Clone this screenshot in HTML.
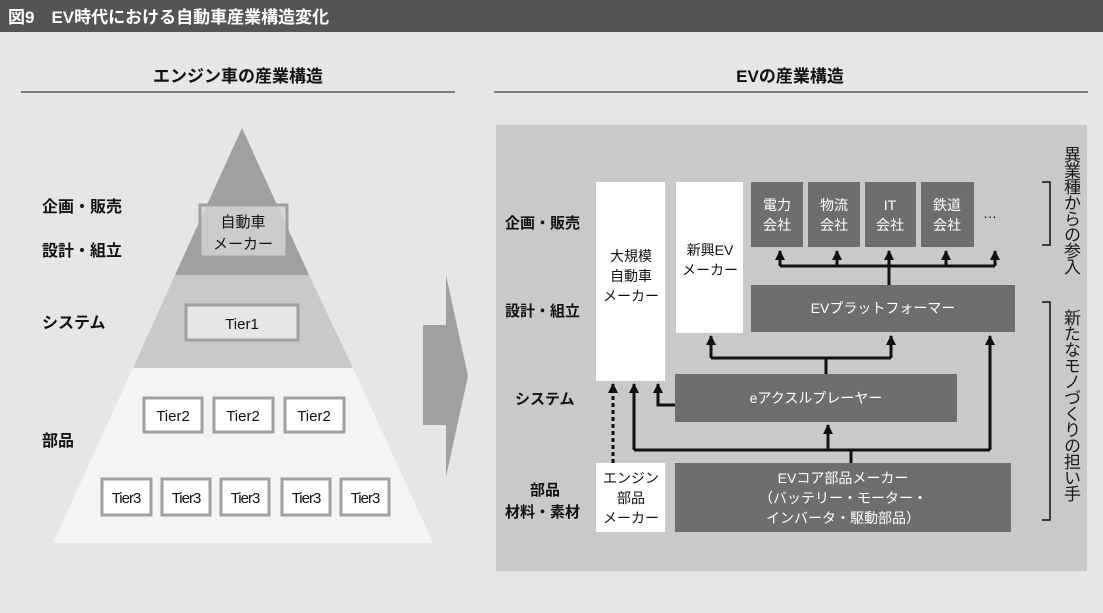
<!DOCTYPE html>
<html><head><meta charset="utf-8"><style>
html,body{margin:0;padding:0;background:#e6e6e6;}
body{width:1103px;height:613px;position:relative;overflow:hidden;font-family:"Liberation Sans","Noto Sans CJK JP",sans-serif;}
svg{position:absolute;left:0;top:0;}
svg text{font-family:"Liberation Sans","Noto Sans CJK JP",sans-serif;}
.v{position:absolute;writing-mode:vertical-rl;font-size:17px;line-height:20px;color:#1a1a1a;letter-spacing:-1px;}
</style></head><body>
<svg width="1103" height="613" viewBox="0 0 1103 613">
<defs>
<marker id="ah" viewBox="0 0 10 10" refX="9" refY="5" markerWidth="10" markerHeight="10" markerUnits="userSpaceOnUse" orient="auto">
<path d="M0,0 L10,5 L0,10 Z" fill="#111"/></marker>
</defs>
<rect x="0" y="0" width="1103" height="32" fill="#555354"/>
<text x="8" y="23" font-size="17" font-weight="bold" fill="#fff">図9　EV時代における自動車産業構造変化</text>

<text x="238" y="82" font-size="17" font-weight="bold" text-anchor="middle" fill="#111">エンジン車の産業構造</text>
<line x1="21" y1="92" x2="455" y2="92" stroke="#111" stroke-width="1"/>
<text x="790" y="82" font-size="17" font-weight="bold" text-anchor="middle" fill="#111">EVの産業構造</text>
<line x1="494" y1="92" x2="1088" y2="92" stroke="#111" stroke-width="1"/>

<polygon points="242,128 309,275 175,275" fill="#a0a0a0"/>
<polygon points="175,275 309,275 353,368 133,368" fill="#c8c9c9"/>
<polygon points="133,368 353,368 433,543 53,543" fill="#f3f4f4"/>
<g font-size="16" font-weight="bold" fill="#111">
<text x="42" y="212">企画・販売</text>
<text x="42" y="256">設計・組立</text>
<text x="42" y="328">システム</text>
<text x="42" y="446">部品</text>
</g>
<g stroke="#a0a0a0" stroke-width="3">
<rect x="200" y="205" width="87" height="52" fill="#d2d2d2" fill-opacity="0.85"/>
<rect x="186" y="305" width="112" height="35" fill="#e6e6e6"/>
<rect x="144" y="398" width="58" height="34" fill="#fff"/>
<rect x="214" y="398" width="59" height="34" fill="#fff"/>
<rect x="285" y="398" width="59" height="34" fill="#fff"/>
<rect x="102" y="479" width="49" height="36" fill="#fff"/>
<rect x="162" y="479" width="48" height="36" fill="#fff"/>
<rect x="221" y="479" width="48" height="36" fill="#fff"/>
<rect x="282" y="479" width="48" height="36" fill="#fff"/>
<rect x="341" y="479" width="48" height="36" fill="#fff"/>
</g>
<g font-size="15" fill="#111" text-anchor="middle">
<text x="243" y="227">自動車</text>
<text x="243" y="249">メーカー</text>
<text x="242" y="329">Tier1</text>
<text x="173" y="421">Tier2</text>
<text x="243" y="421">Tier2</text>
<text x="314" y="421">Tier2</text>
<text x="126" y="503" letter-spacing="-1">Tier3</text>
<text x="186" y="503" letter-spacing="-1">Tier3</text>
<text x="245" y="503" letter-spacing="-1">Tier3</text>
<text x="306" y="503" letter-spacing="-1">Tier3</text>
<text x="365" y="503" letter-spacing="-1">Tier3</text>
</g>
<polygon points="423,325 446,325 446,275 468,376 446,477 446,425 423,425" fill="#a0a0a0"/>

<rect x="496" y="125" width="591" height="446" fill="#c8c9c9"/>
<g font-size="15" font-weight="bold" fill="#111">
<text x="505" y="228">企画・販売</text>
<text x="505" y="316">設計・組立</text>
<text x="515" y="404">システム</text>
<text x="530" y="495">部品</text>
<text x="505" y="517">材料・素材</text>
</g>
<rect x="596" y="182" width="69" height="199" fill="#fff"/>
<rect x="676" y="182" width="67" height="151" fill="#fff"/>
<rect x="596" y="463" width="69" height="69" fill="#fff"/>
<g fill="#6e6e6e">
<rect x="751" y="182" width="52" height="65"/>
<rect x="808" y="182" width="52" height="65"/>
<rect x="865" y="182" width="51" height="65"/>
<rect x="921" y="182" width="53" height="65"/>
<rect x="751" y="285" width="264" height="47"/>
<rect x="675" y="374" width="282" height="48"/>
<rect x="675" y="463" width="336" height="69"/>
</g>
<g font-size="14" fill="#111" text-anchor="middle">
<text x="631" y="261">大規模</text>
<text x="631" y="281">自動車</text>
<text x="631" y="301">メーカー</text>
<text x="710" y="255">新興EV</text>
<text x="710" y="275">メーカー</text>
<text x="631" y="483">エンジン</text>
<text x="631" y="503">部品</text>
<text x="631" y="523">メーカー</text>
</g>
<g font-size="14" fill="#fff" text-anchor="middle">
<text x="777" y="210">電力</text><text x="777" y="230">会社</text>
<text x="834" y="210">物流</text><text x="834" y="230">会社</text>
<text x="890" y="210">IT</text><text x="890" y="230">会社</text>
<text x="947" y="210">鉄道</text><text x="947" y="230">会社</text>
<text x="883" y="313">EVプラットフォーマー</text>
<text x="816" y="403">eアクスルプレーヤー</text>
<text x="843" y="483">EVコア部品メーカー</text>
<text x="843" y="503">（バッテリー・モーター・</text>
<text x="843" y="523">インバータ・駆動部品）</text>
</g>
<text x="990" y="218" font-size="14" fill="#111" text-anchor="middle">…</text>

<g stroke="#111" stroke-width="3" fill="none">
<line x1="889" y1="285" x2="889" y2="266"/>
<line x1="780" y1="266" x2="995" y2="266"/>
<line x1="780" y1="266" x2="780" y2="251" marker-end="url(#ah)"/>
<line x1="837" y1="266" x2="837" y2="251" marker-end="url(#ah)"/>
<line x1="889" y1="266" x2="889" y2="251" marker-end="url(#ah)"/>
<line x1="946" y1="266" x2="946" y2="251" marker-end="url(#ah)"/>
<line x1="995" y1="266" x2="995" y2="251" marker-end="url(#ah)"/>
<line x1="826" y1="374" x2="826" y2="358"/>
<line x1="711" y1="358" x2="891" y2="358"/>
<line x1="711" y1="358" x2="711" y2="336" marker-end="url(#ah)"/>
<line x1="891" y1="358" x2="891" y2="336" marker-end="url(#ah)"/>
<polyline points="675,405 658,405 658,384" marker-end="url(#ah)"/>
<line x1="613" y1="463" x2="613" y2="384" stroke-dasharray="4,3" marker-end="url(#ah)"/>
<line x1="851" y1="463" x2="851" y2="450"/>
<line x1="634" y1="450" x2="990" y2="450"/>
<line x1="634" y1="450" x2="634" y2="384" marker-end="url(#ah)"/>
<line x1="828" y1="450" x2="828" y2="425" marker-end="url(#ah)"/>
<line x1="990" y1="450" x2="990" y2="336" marker-end="url(#ah)"/>
</g>
<g stroke="#111" stroke-width="1.5" fill="none">
<polyline points="1042,182 1050,182 1050,245 1042,245"/>
<polyline points="1042,302 1050,302 1050,520 1042,520"/>
</g>
</svg>
<div class="v" style="left:1060px;top:146px;">異業種からの参入</div>
<div class="v" style="left:1060px;top:309px;">新たなモノづくりの担い手</div>
</body></html>
